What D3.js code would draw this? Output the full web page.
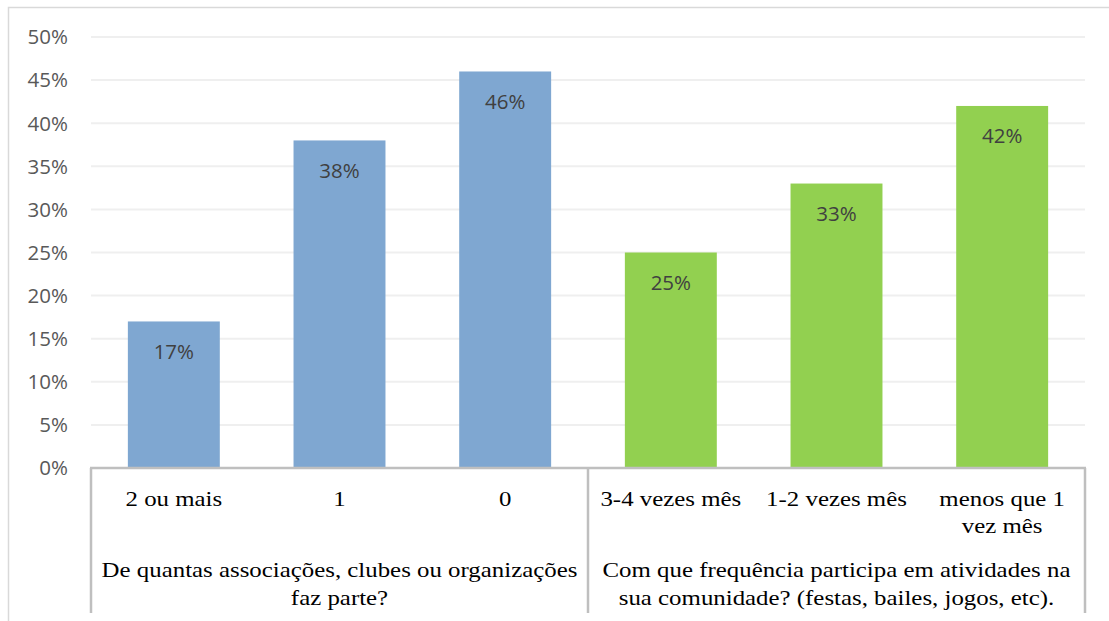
<!DOCTYPE html>
<html>
<head>
<meta charset="utf-8">
<script src="https://cdn.jsdelivr.net/npm/d3@7"></script>
<style>
  body { margin: 0; background: #fff; }
  svg { display: block; }
</style>
</head>
<body>
<svg id="chart"></svg>
<script>
const categories = ['2 ou mais', '1', '0', '3-4 vezes mês', '1-2 vezes mês', 'menos que 1|vez mês'];
const values = [17, 38, 46, 25, 33, 42];
const groupIdx = [0, 0, 0, 1, 1, 1];
const groups = [
  ['De quantas associações, clubes ou organizações', 'faz parte?'],
  ['Com que frequência participa em atividades na', 'sua comunidade? (festas, bailes, jogos, etc).']
];
const groupColors = ['#7fa7d1', '#92d050'];
const yTicks = [0, 5, 10, 15, 20, 25, 30, 35, 40, 45, 50];

const W = 1109, H = 621;
const margin = { top: 37, right: 24, bottom: 153, left: 91 };
const svg = d3.select('#chart').attr('width', W).attr('height', H);

// outer frame
svg.append('rect')
  .attr('x', 8.5).attr('y', 7.5)
  .attr('width', W + 10).attr('height', H + 10)
  .attr('fill', 'none').attr('stroke', '#d9d9d9').attr('stroke-width', 1.5);

const x = d3.scaleBand().domain(d3.range(categories.length))
  .range([margin.left, W - margin.right]).paddingInner(0.445).paddingOuter(0.2225);
const y = d3.scaleLinear().domain([0, 50]).range([H - margin.bottom, margin.top]);
const x0 = margin.left, x1 = W - margin.right, yBase = y(0);

// gridlines
svg.append('g').selectAll('line').data(yTicks.slice(1)).join('line')
  .attr('x1', x0).attr('x2', x1)
  .attr('y1', d => y(d)).attr('y2', d => y(d))
  .attr('stroke', '#efefef').attr('stroke-width', 2);

// y axis labels
svg.append('g').selectAll('text').data(yTicks).join('text')
  .attr('x', 68).attr('y', d => y(d))
  .attr('dy', '0.36em').attr('text-anchor', 'end')
  .attr('font-family', 'Open Sans, sans-serif').attr('font-size', 20.5)
  .attr('fill', '#595959')
  .text(d => d + '%');

// bars
svg.append('g').selectAll('rect').data(values).join('rect')
  .attr('x', (d, i) => x(i)).attr('width', x.bandwidth())
  .attr('y', d => y(d)).attr('height', d => yBase - y(d))
  .attr('fill', (d, i) => groupColors[groupIdx[i]]);

// data labels
svg.append('g').selectAll('text').data(values).join('text')
  .attr('x', (d, i) => x(i) + x.bandwidth() / 2)
  .attr('y', d => y(d) + 30).attr('dy', '0.36em')
  .attr('text-anchor', 'middle')
  .attr('font-family', 'Open Sans, sans-serif').attr('font-size', 20.5)
  .attr('fill', '#404040')
  .text(d => d + '%');

// axis line and separators
const axisCol = '#bfbfbf';
svg.append('line').attr('x1', x0 - 1).attr('x2', x1 + 1).attr('y1', yBase).attr('y2', yBase)
  .attr('stroke', axisCol).attr('stroke-width', 2.5);
const sepX = [x0, (x(2) + x.bandwidth() + x(3)) / 2, x1];
svg.append('g').selectAll('line').data(sepX).join('line')
  .attr('x1', d => d).attr('x2', d => d)
  .attr('y1', yBase).attr('y2', 613)
  .attr('stroke', axisCol).attr('stroke-width', 2.5);

// serif labels are drawn a bit wider than normal, like the original
const serif = 'Liberation Serif, Times New Roman, serif';
const sx = 1.13;
function wideText(cx, cy, str) {
  svg.append('text')
    .attr('transform', `translate(${cx},${cy}) scale(${sx},1)`)
    .attr('text-anchor', 'middle')
    .attr('font-family', serif).attr('font-size', 22).attr('fill', '#000')
    .text(str);
}

// category labels
categories.forEach((d, i) => {
  d.split('|').forEach((line, k) => wideText(x(i) + x.bandwidth() / 2, 506 + k * 27, line));
});

// group labels
groups.forEach((lines, g) => {
  const cx = (sepX[g] + sepX[g + 1]) / 2;
  lines.forEach((line, k) => wideText(cx, 577 + k * 28, line));
});
</script>
</body>
</html>
